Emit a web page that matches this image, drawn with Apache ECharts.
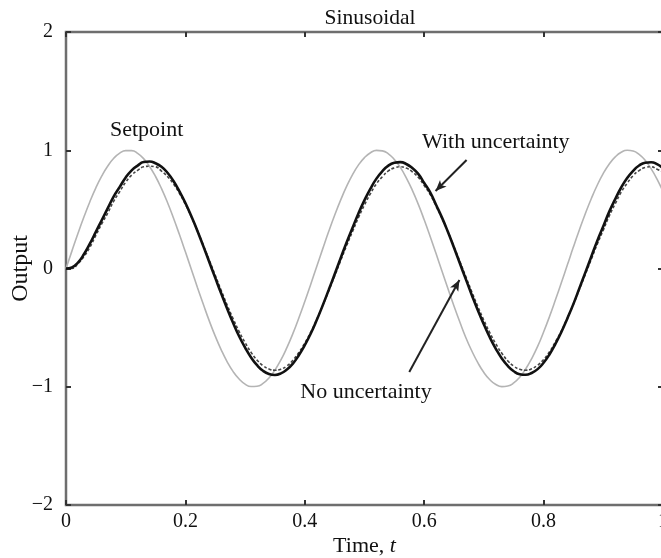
<!DOCTYPE html>
<html>
<head>
<meta charset="utf-8">
<script src="https://cdn.jsdelivr.net/npm/echarts@6/dist/echarts.min.js"></script>
<style>
  html, body { margin: 0; padding: 0; background: #fff; }
  #chart { width: 661px; height: 558px; }
</style>
</head>
<body>
<div id="chart"></div>
<script>
// Sample times (s)
const times = [0,0.01,0.02,0.03,0.04,0.05,0.06,0.07,0.08,0.09,0.10,0.11,0.12,0.13,0.14,0.15,0.16,0.17,0.18,0.19,0.20,0.21,0.22,0.23,0.24,0.25,0.26,0.27,0.28,0.29,0.30,0.31,0.32,0.33,0.34,0.35,0.36,0.37,0.38,0.39,0.40,0.41,0.42,0.43,0.44,0.45,0.46,0.47,0.48,0.49,0.50,0.51,0.52,0.53,0.54,0.55,0.56,0.57,0.58,0.59,0.60,0.61,0.62,0.63,0.64,0.65,0.66,0.67,0.68,0.69,0.70,0.71,0.72,0.73,0.74,0.75,0.76,0.77,0.78,0.79,0.80,0.81,0.82,0.83,0.84,0.85,0.86,0.87,0.88,0.89,0.90,0.91,0.92,0.93,0.94,0.95,0.96,0.97,0.98,0.99,1.00];

// Reference signal
const setpoint = [0,0.149,0.296,0.435,0.565,0.682,0.783,0.867,0.932,0.976,0.997,0.997,0.974,0.929,0.863,0.778,0.675,0.558,0.427,0.287,0.141,-0.008,-0.158,-0.303,-0.443,-0.572,-0.688,-0.789,-0.872,-0.935,-0.978,-0.998,-0.996,-0.972,-0.926,-0.859,-0.773,-0.669,-0.551,-0.419,-0.279,-0.133,0.017,0.166,0.312,0.450,0.578,0.694,0.794,0.876,0.938,0.979,0.999,0.995,0.970,0.922,0.855,0.767,0.663,0.544,0.412,0.271,0.124,-0.025,-0.174,-0.319,-0.457,-0.588,-0.700,-0.798,-0.880,-0.941,-0.981,-0.999,-0.994,-0.968,-0.919,-0.850,-0.762,-0.659,-0.537,-0.405,-0.263,-0.116,0.033,0.183,0.327,0.465,0.592,0.706,0.804,0.884,0.944,0.983,1.000,0.994,0.965,0.916,0.845,0.756,0.650];

// Output with uncertainty (solid)
const withUncertainty = [0,0.01,0.05,0.12,0.21,0.31,0.41,0.51,0.61,0.69,0.77,0.83,0.87,0.90,0.905,0.89,0.86,0.81,0.74,0.652,0.554,0.441,0.320,0.189,0.055,-0.079,-0.212,-0.340,-0.461,-0.573,-0.669,-0.752,-0.818,-0.865,-0.892,-0.900,-0.887,-0.854,-0.804,-0.733,-0.648,-0.550,-0.436,-0.312,-0.182,-0.048,0.087,0.220,0.345,0.468,0.578,0.676,0.760,0.823,0.870,0.894,0.900,0.884,0.849,0.800,0.723,0.643,0.537,0.428,0.306,0.175,0.040,-0.094,-0.228,-0.355,-0.473,-0.583,-0.679,-0.761,-0.824,-0.869,-0.894,-0.899,-0.884,-0.851,-0.797,-0.725,-0.635,-0.535,-0.420,-0.299,-0.166,-0.033,0.102,0.235,0.357,0.481,0.587,0.685,0.765,0.826,0.871,0.895,0.899,0.883,0.848];

// Output without uncertainty (dashed)
const noUncertainty = [0,0.00,0.04,0.10,0.18,0.28,0.38,0.47,0.57,0.65,0.73,0.79,0.83,0.86,0.865,0.86,0.824,0.778,0.715,0.636,0.542,0.437,0.322,0.197,0.070,-0.058,-0.186,-0.310,-0.425,-0.533,-0.627,-0.709,-0.775,-0.822,-0.850,-0.860,-0.851,-0.824,-0.776,-0.711,-0.630,-0.539,-0.431,-0.314,-0.190,-0.063,0.066,0.193,0.314,0.432,0.538,0.634,0.716,0.777,0.826,0.851,0.860,0.849,0.818,0.771,0.702,0.626,0.527,0.423,0.308,0.183,0.056,-0.073,-0.201,-0.323,-0.438,-0.544,-0.637,-0.717,-0.781,-0.826,-0.852,-0.860,-0.848,-0.818,-0.770,-0.703,-0.618,-0.525,-0.417,-0.301,-0.176,-0.048,0.080,0.208,0.325,0.445,0.548,0.646,0.721,0.786,0.828,0.854,0.860,0.840,0.814];

const pair = (ys) => times.map((t, i) => [t, ys[i]]);
const serif = '"Liberation Serif", "DejaVu Serif", serif';
const minus = (v) => String(v).replace('-', '\u2212');

const chart = echarts.init(document.getElementById('chart'));

const textPoint = (name, coord) => ({
  name, coord, symbol: 'circle', symbolSize: 0,
  label: { show: true, position: 'inside', formatter: '{b}', color: '#111', fontFamily: serif, fontSize: 22 }
});

const arrowLine = (from, to) => [
  { coord: from, symbol: 'none' },
  { coord: to, symbol: 'arrow', symbolSize: [7, 11] }
];

const tickStyle = { show: true, inside: true, length: 5, lineStyle: { color: '#333', width: 2 } };

chart.setOption({
  animation: false,
  backgroundColor: '#fff',
  title: {
    text: 'Sinusoidal', left: 365, top: 2, textAlign: 'center',
    textStyle: { fontFamily: serif, fontSize: 21.5, fontWeight: 'normal', color: '#111' }
  },
  grid: {
    left: 66, top: 32, width: 597, height: 473,
    outerBoundsMode: 'none', containLabel: false,
    show: true, borderColor: '#6e6e6e', borderWidth: 2.5, backgroundColor: 'transparent'
  },
  xAxis: [
    {
      type: 'value', min: 0, max: 1, interval: 0.2,
      name: 'Time, {i|t}', nameLocation: 'middle', nameGap: 30, nameMoveOverlap: false,
      nameTextStyle: { fontFamily: serif, fontSize: 22, color: '#111', rich: { i: { fontStyle: 'italic', fontFamily: serif, fontSize: 22, color: '#111' } } },
      axisLine: { show: false, onZero: false },
      axisTick: tickStyle,
      splitLine: { show: false },
      axisLabel: { fontFamily: serif, fontSize: 20, color: '#111', margin: 7, formatter: (v) => String(v) }
    },
    {
      type: 'value', min: 0, max: 1, interval: 0.2, position: 'top',
      axisLine: { show: false, onZero: false },
      axisTick: tickStyle,
      axisLabel: { show: false }, splitLine: { show: false }
    }
  ],
  yAxis: [
    {
      type: 'value', min: -2, max: 2, interval: 1,
      name: 'Output', nameLocation: 'middle', nameGap: 33, nameRotate: 90, nameMoveOverlap: false,
      nameTextStyle: { fontFamily: serif, fontSize: 24, color: '#111' },
      axisLine: { show: false, onZero: false },
      axisTick: tickStyle,
      splitLine: { show: false },
      axisLabel: { fontFamily: serif, fontSize: 20, color: '#111', margin: 13, formatter: minus }
    },
    {
      type: 'value', min: -2, max: 2, interval: 1, position: 'right',
      axisLine: { show: false, onZero: false },
      axisTick: tickStyle,
      axisLabel: { show: false }, splitLine: { show: false }
    }
  ],
  series: [
    {
      name: 'Setpoint', type: 'line', smooth: true, showSymbol: false,
      data: pair(setpoint),
      lineStyle: { color: '#b4b4b4', width: 1.6 },
      markPoint: { data: [textPoint('Setpoint', [0.135, 1.17])] }
    },
    {
      name: 'No uncertainty', type: 'line', smooth: true, showSymbol: false,
      data: pair(noUncertainty),
      lineStyle: { color: '#444', width: 1.6, type: [3, 2] },
      markPoint: { data: [textPoint('No uncertainty', [0.5025, -1.05])] },
      markLine: {
        silent: true,
        lineStyle: { color: '#222', width: 2, type: 'solid' },
        label: { show: false },
        data: [arrowLine([0.575, -0.875], [0.659, -0.097])]
      }
    },
    {
      name: 'With uncertainty', type: 'line', smooth: true, showSymbol: false,
      data: pair(withUncertainty),
      lineStyle: { color: '#111', width: 2.6 },
      markPoint: { data: [textPoint('With uncertainty', [0.72, 1.07])] },
      markLine: {
        silent: true,
        lineStyle: { color: '#222', width: 2, type: 'solid' },
        label: { show: false },
        data: [arrowLine([0.671, 0.918], [0.619, 0.655])]
      }
    }
  ]
});
</script>
</body>
</html>
